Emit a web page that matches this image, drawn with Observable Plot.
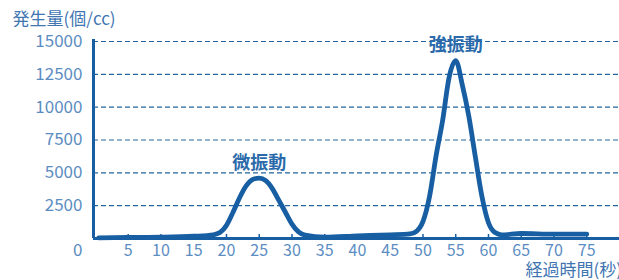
<!DOCTYPE html>
<html><head><meta charset="utf-8">
<script src="https://cdn.jsdelivr.net/npm/d3@7"></script>
<script src="https://cdn.jsdelivr.net/npm/@observablehq/plot@0.6"></script>
<style>
body{margin:0;background:#fff;}
svg{display:block;}
</style></head><body><div id="chart"></div>
<script>
const times  = [0.5, 5, 10, 15, 18, 19, 20, 21, 22, 23, 24, 25, 26, 27, 28, 29, 30, 31, 32, 35, 40, 45, 48, 49, 50, 51, 52, 53, 54, 55, 56, 57, 58, 59, 60, 61, 62, 65, 70, 75];
const counts = [50, 80, 100, 170, 280, 450, 1000, 2000, 3100, 4000, 4500, 4600, 4400, 3800, 2900, 2000, 1100, 500, 250, 100, 200, 280, 350, 550, 1300, 3200, 6300, 9000, 12300, 13550, 11700, 9300, 6200, 3200, 1200, 450, 280, 380, 330, 330];
const xTicks = [5, 10, 15, 20, 25, 30, 35, 40, 45, 50, 55, 60, 65, 70, 75];
const yTicks = [2500, 5000, 7500, 10000, 12500, 15000];
const peakLabels = ["微振動", "強振動"];
const peakTimes = [25, 55];
const peakCounts = [4600, 13550];
const yTitle = "発生量(個/cc)";
const xTitle = "経過時間(秒)";
const xDomain = [-0.3, 80];
const yDomain = [0, 15000];

const data = times.map((t, i) => ({t, v: counts[i]}));
const peaks = peakLabels.map((l, i) => ({label: l, t: peakTimes[i], v: peakCounts[i]}));

const font = "'Noto Sans CJK JP', 'Noto Sans', sans-serif";
const dark = "#175ea3";
const tickColor = "#5c8dc2";

const chart = Plot.plot({
  width: 619, height: 280,
  marginLeft: 93, marginRight: 0, marginTop: 41, marginBottom: 42,
  style: {fontFamily: font, fontSize: "16px", background: "#fff", overflow: "visible"},
  x: {domain: xDomain},
  y: {domain: yDomain},
  marks: [
    Plot.gridY(yTicks, {stroke: "#25649c", strokeOpacity: 1, strokeWidth: 1.2, strokeDasharray: "5,3"}),
    Plot.axisY(yTicks, {tickSize: 0, tickPadding: 11, fill: tickColor, fontSize: 17, label: null, tickFormat: d => String(d)}),
    Plot.axisX(xTicks, {tickSize: 0, tickPadding: 6, fill: tickColor, fontSize: 16, label: null, tickFormat: d => String(d)}),
    Plot.ruleX(xTicks, {stroke: dark, strokeWidth: 1.5, insetTop: 193}),
    Plot.text([0], {y: d => d, frameAnchor: "left", textAnchor: "end", dx: -11, dy: 12, fill: tickColor, fontSize: 17}),
    Plot.ruleY([yDomain[0]], {stroke: dark, strokeWidth: 3}),
    Plot.ruleX([xDomain[0]], {stroke: dark, strokeWidth: 3, insetTop: -2}),
    Plot.line(data, {x: "t", y: "v", stroke: dark, strokeWidth: 4.8, curve: "monotone-x", strokeLinejoin: "round", strokeLinecap: "round"}),
    Plot.text(peaks, {x: "t", y: "v", text: "label", dy: -15, lineAnchor: "middle", fill: "#2a6aaa", fontSize: 18, fontWeight: "bold"}),
    Plot.text([yTitle], {frameAnchor: "top-left", textAnchor: "start", lineAnchor: "middle", dx: -81, dy: -22, fill: "#3f76b2", fontSize: 17}),
    Plot.text([xTitle], {frameAnchor: "bottom-right", textAnchor: "start", lineAnchor: "middle", dx: -94, dy: 32, fill: "#3f76b2", fontSize: 17})
  ]
});
document.getElementById("chart").appendChild(chart);
</script></body></html>
